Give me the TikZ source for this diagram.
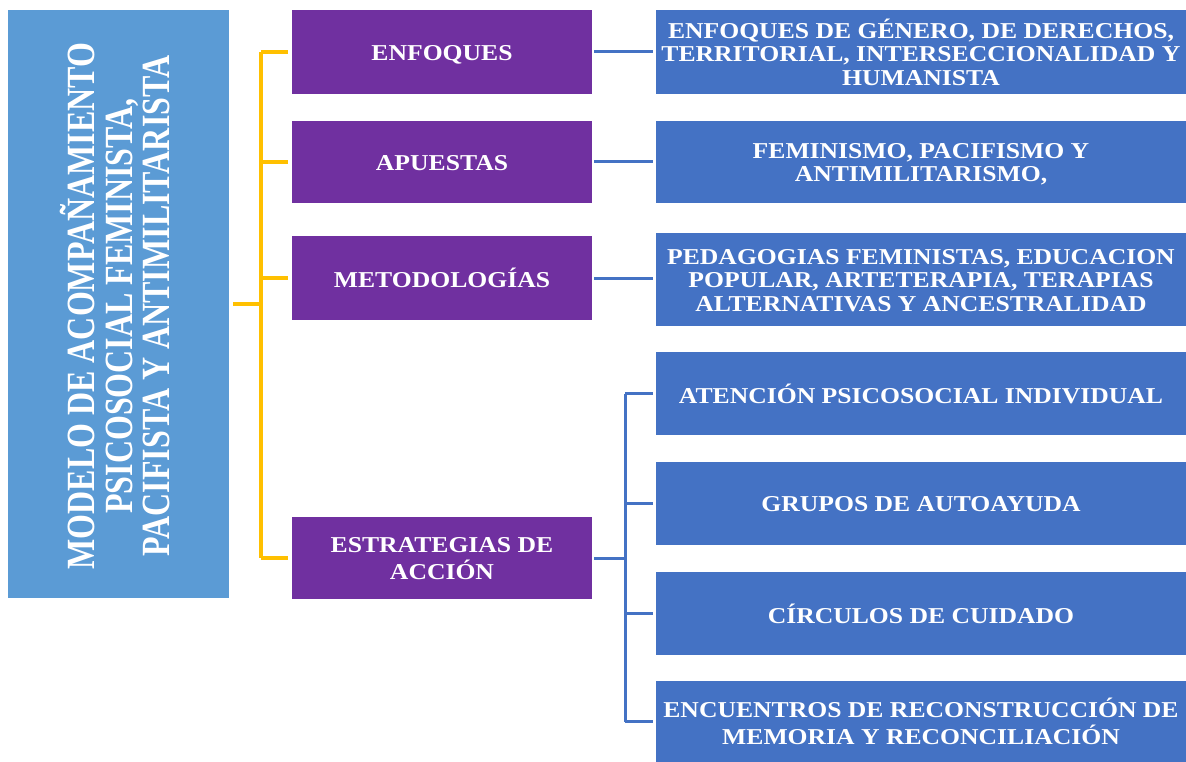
\documentclass[tikz,border=0pt]{standalone}
\usepackage{fontspec}
\setmainfont{Liberation Serif}
\usepackage{graphicx}
\definecolor{lblue}{HTML}{5B9BD5}
\definecolor{purp}{HTML}{7030A0}
\definecolor{dblue}{HTML}{4472C4}
\definecolor{gold}{HTML}{FFC000}
\newcommand{\rtxt}[1]{\raisebox{-3.5pt}[\height][\depth]{\scalebox{1.13}[1]{\fontsize{22.7}{23.5}\selectfont\bfseries\begin{tabular}{@{}c@{}}#1\end{tabular}}}}
\newcommand{\ltxt}[1]{\raisebox{-2.5pt}[\height][\depth]{\scalebox{1}[1.25]{\fontsize{32}{28.8}\selectfont\bfseries\begin{tabular}{@{}c@{}}#1\end{tabular}}}}
\tikzset{
  box/.style={rectangle, inner sep=0pt, text=white, draw=none},
  leftbox/.style={box, fill=lblue, minimum width=221pt, minimum height=588pt},
  pbox/.style={box, fill=purp, minimum width=300pt},
  bbox/.style={box, fill=dblue, minimum width=530pt},
  yel/.style={draw=gold, line width=3.2pt},
  blu/.style={draw=dblue, line width=3pt},
}
\begin{document}
\begin{tikzpicture}[x=1pt, y=-1pt]
\useasboundingbox (0,0) rectangle (1186,762);
\fill[white] (0,0) rectangle (1186,762);
% left
\node[leftbox] (L) at (118.5,304) {};
\node[rotate=90, text=white, inner sep=0pt] (Lt) at (118,306) {\ltxt{MODELO DE ACOMPAÑAMIENTO\\PSICOSOCIAL FEMINISTA,\\PACIFISTA Y ANTIMILITARISTA}};
% purple
\node[pbox, minimum height=84pt] (p1) at (442,52) {\rtxt{ENFOQUES}};
\node[pbox, minimum height=82pt] (p2) at (442,162) {\rtxt{APUESTAS}};
\node[pbox, minimum height=84pt] (p3) at (442,278) {\rtxt{METODOLOGÍAS}};
\node[pbox, minimum height=82pt] (p4) at (442,558) {\rtxt{ESTRATEGIAS DE\\ACCIÓN}};
% blue
\node[bbox, minimum height=84pt] (b1) at (921,52) {\rtxt{ENFOQUES DE GÉNERO, DE DERECHOS,\\TERRITORIAL, INTERSECCIONALIDAD Y\\HUMANISTA}};
\node[bbox, minimum height=82pt] (b2) at (921,162) {\rtxt{FEMINISMO, PACIFISMO Y\\ANTIMILITARISMO,}};
\node[bbox, minimum height=93pt] (b3) at (921,279.5) {\rtxt{PEDAGOGIAS FEMINISTAS, EDUCACION\\POPULAR, ARTETERAPIA, TERAPIAS\\ALTERNATIVAS Y ANCESTRALIDAD}};
\node[bbox, minimum height=83pt] (b4) at (921,393.5) {\rtxt{ATENCIÓN PSICOSOCIAL INDIVIDUAL}};
\node[bbox, minimum height=83pt] (b5) at (921,503.5) {\rtxt{GRUPOS DE AUTOAYUDA}};
\node[bbox, minimum height=83pt] (b6) at (921,613.5) {\rtxt{CÍRCULOS DE CUIDADO}};
\node[bbox, minimum height=81pt] (b7) at (921,721.5) {\rtxt{ENCUENTROS DE RECONSTRUCCIÓN DE\\MEMORIA Y RECONCILIACIÓN}};
% yellow connectors
\coordinate (yb) at (261,304);
\draw[yel, shorten <=4pt] (L.east) -- (yb);
\draw[yel] (yb |- p1.west) -- (yb |- p4.west);
\foreach \p in {p1,p2,p3,p4}{
  \draw[yel, shorten >=4pt] (yb |- \p.west) -- (\p.west);
}
% blue connectors
\foreach \p/\b in {p1/b1,p2/b2,p3/b3}{
  \draw[blu, shorten <=2pt, shorten >=3pt] (\p.east) -- (\p.east -| \b.west);
}
\coordinate (bb) at (625,558);
\draw[blu, shorten <=2pt] (p4.east) -- (bb);
\draw[blu] (bb |- b4.west) -- (bb |- b7.west);
\foreach \b in {b4,b5,b6,b7}{
  \draw[blu, shorten >=3pt] (bb |- \b.west) -- (\b.west);
}
\end{tikzpicture}
\end{document}
